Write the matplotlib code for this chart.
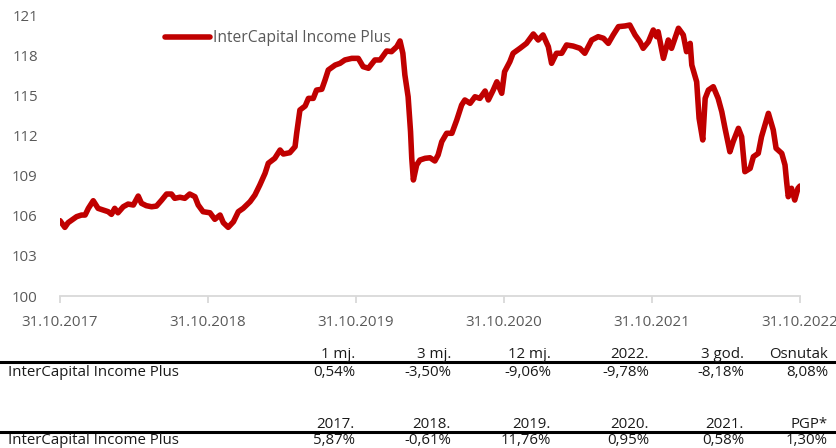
import matplotlib
matplotlib.use("Agg")
import matplotlib.pyplot as plt
from matplotlib.lines import Line2D
from matplotlib import font_manager
from matplotlib.font_manager import FontProperties
from matplotlib.textpath import TextPath
import pandas as pd

# ---------------- data ----------------
series_name = "InterCapital Income Plus"

dates = [
    "2017-10-31", "2017-11-12", "2017-11-20", "2017-12-11", "2017-12-23", "2018-01-01",
    "2018-01-09", "2018-01-21", "2018-02-02", "2018-02-14", "2018-02-27", "2018-03-07",
    "2018-03-15", "2018-03-23", "2018-04-05", "2018-04-17", "2018-04-30", "2018-05-12",
    "2018-05-20", "2018-06-01", "2018-06-14", "2018-06-26", "2018-07-09", "2018-07-21",
    "2018-08-02", "2018-08-10", "2018-08-23", "2018-09-04", "2018-09-16", "2018-09-29",
    "2018-10-07", "2018-10-19", "2018-11-05", "2018-11-17", "2018-11-30", "2018-12-08",
    "2018-12-20", "2019-01-02", "2019-01-14", "2019-01-26", "2019-02-12", "2019-02-24",
    "2019-03-08", "2019-03-21", "2019-03-29", "2019-04-14", "2019-04-27", "2019-05-05",
    "2019-05-21", "2019-06-03", "2019-06-07", "2019-06-15", "2019-06-28", "2019-07-06",
    "2019-07-18", "2019-07-26", "2019-08-08", "2019-08-16", "2019-08-24", "2019-09-10",
    "2019-09-22", "2019-10-04", "2019-10-21", "2019-11-06", "2019-11-18", "2019-12-01",
    "2019-12-17", "2019-12-30", "2020-01-15", "2020-01-27", "2020-02-09", "2020-02-17",
    "2020-02-24", "2020-02-29", "2020-03-08", "2020-03-14", "2020-03-17", "2020-03-21",
    "2020-03-29", "2020-04-06", "2020-04-19", "2020-05-01", "2020-05-13", "2020-05-21",
    "2020-05-30", "2020-06-11", "2020-06-24", "2020-07-06", "2020-07-18", "2020-07-26",
    "2020-08-08", "2020-08-20", "2020-09-01", "2020-09-14", "2020-09-22", "2020-10-04",
    "2020-10-13", "2020-10-25", "2020-11-01", "2020-11-14", "2020-11-22", "2020-12-09",
    "2020-12-25", "2021-01-11", "2021-01-23", "2021-02-04", "2021-02-17", "2021-02-25",
    "2021-03-09", "2021-03-22", "2021-04-03", "2021-04-19", "2021-05-06", "2021-05-18",
    "2021-06-04", "2021-06-20", "2021-07-03", "2021-07-15", "2021-07-27", "2021-08-09",
    "2021-08-25", "2021-09-06", "2021-09-19", "2021-10-01", "2021-10-09", "2021-10-22",
    "2021-11-03", "2021-11-11", "2021-11-15", "2021-11-28", "2021-12-10", "2021-12-18",
    "2022-01-04", "2022-01-16", "2022-01-24", "2022-02-02", "2022-02-06", "2022-02-18",
    "2022-02-24", "2022-03-05", "2022-03-11", "2022-03-19", "2022-03-31", "2022-04-12",
    "2022-04-21", "2022-04-29", "2022-05-11", "2022-05-19", "2022-06-01", "2022-06-09",
    "2022-06-17", "2022-06-30", "2022-07-08", "2022-07-20", "2022-07-28", "2022-08-14",
    "2022-08-26", "2022-09-02", "2022-09-16", "2022-09-24", "2022-09-28", "2022-10-02",
    "2022-10-10", "2022-10-18", "2022-10-26", "2022-10-31",
]

values = [
    105.63, 105.13, 105.48, 105.93, 106.05, 106.05,
    106.55, 107.12, 106.55, 106.43, 106.30, 106.10,
    106.55, 106.22, 106.67, 106.87, 106.80, 107.47,
    106.93, 106.75, 106.67, 106.72, 107.17, 107.62,
    107.62, 107.30, 107.38, 107.30, 107.62, 107.42,
    106.80, 106.30, 106.22, 105.73, 106.05, 105.48,
    105.13, 105.55, 106.30, 106.55, 107.05, 107.55,
    108.29, 109.17, 109.92, 110.29, 110.91, 110.61,
    110.71, 111.16, 112.16, 113.90, 114.20, 114.77,
    114.77, 115.39, 115.45, 116.14, 116.89, 117.26,
    117.39, 117.64, 117.76, 117.76, 117.14, 117.02,
    117.64, 117.64, 118.31, 118.26, 118.63, 119.06,
    118.14, 116.52, 114.89, 112.28, 110.29, 108.67,
    109.79, 110.16, 110.29, 110.33, 110.09, 110.54,
    111.53, 112.16, 112.16, 113.15, 114.27, 114.65,
    114.40, 114.89, 114.77, 115.32, 114.65, 115.39,
    116.01, 115.15, 116.76, 117.51, 118.14, 118.51,
    118.88, 119.58, 119.13, 119.51, 118.63, 117.39,
    118.14, 118.14, 118.76, 118.68, 118.51, 118.14,
    119.13, 119.38, 119.26, 118.88, 119.51, 120.13,
    120.18, 120.25, 119.51, 119.00, 118.51, 119.00,
    119.88, 119.38, 119.75, 117.76, 119.13, 118.51,
    120.01, 119.51, 118.26, 118.88, 117.26, 116.01,
    113.28, 111.66, 114.77, 115.39, 115.64, 114.77,
    113.77, 112.53, 110.78, 111.53, 112.53, 111.90,
    109.29, 109.54, 110.41, 110.66, 111.90, 113.65,
    112.41, 111.04, 110.66, 109.79, 108.54, 107.42,
    108.05, 107.17, 108.05, 108.22,
]

x_tick_dates = ["2017-10-31", "2018-10-31", "2019-10-31", "2020-10-31", "2021-10-31", "2022-10-31"]
x_tick_labels = ["31.10.2017", "31.10.2018", "31.10.2019", "31.10.2020", "31.10.2021", "31.10.2022"]
y_ticks = [100, 103, 106, 109, 112, 115, 118, 121]

table1_headers = ["1 mj.", "3 mj.", "12 mj.", "2022.", "3 god.", "Osnutak"]
table1_values = ["0,54%", "-3,50%", "-9,06%", "-9,78%", "-8,18%", "8,08%"]
table2_headers = ["2017.", "2018.", "2019.", "2020.", "2021.", "PGP*"]
table2_values = ["5,87%", "-0,61%", "11,76%", "0,95%", "0,58%", "1,30%"]

# ---------------- fonts ----------------
names = {f.name for f in font_manager.fontManager.ttflist}
main_font = "Open Sans" if "Open Sans" in names else "DejaVu Sans"
plt.rcParams["font.family"] = [main_font, "DejaVu Sans"]


def size_for_width(text, family, target_w):
    fp = FontProperties(family=[family, "DejaVu Sans"], size=10.0)
    w = TextPath((0, 0), text, prop=fp).get_extents().width * 100 / 72.0
    return 10.0 * target_w / w


W, H = 837, 448
fig = plt.figure(figsize=(W / 100, H / 100), dpi=100)


def fx(px):
    return px / W


def fy(py):
    return 1 - py / H


ax_left, ax_right, ax_top, ax_bottom = 60, 800, 15, 296
ax = fig.add_axes([fx(ax_left), fy(ax_bottom), (ax_right - ax_left) / W, (ax_bottom - ax_top) / H])

d = pd.to_datetime(dates)
ax.plot(d, values, color="#C00000", linewidth=4.0, solid_joinstyle="round",
        solid_capstyle="round", label=series_name)

ax.set_ylim(100, 121)
ax.set_xlim(pd.Timestamp(x_tick_dates[0]), pd.Timestamp(x_tick_dates[-1]))
ax.set_yticks(y_ticks)
ax.set_xticks(pd.to_datetime(x_tick_dates))
ax.set_xticklabels(x_tick_labels)

tick_fs = size_for_width("31.10.2017", main_font, 75)
for s in ["top", "right", "left"]:
    ax.spines[s].set_visible(False)
ax.spines["bottom"].set_color("#D9D9D9")
ax.spines["bottom"].set_linewidth(1.3)
ax.tick_params(axis="x", length=5, width=1.3, color="#D9D9D9", labelcolor="#595959",
               labelsize=tick_fs, pad=9)
ax.tick_params(axis="y", length=0, labelcolor="#595959", labelsize=tick_fs, pad=16)

leg_fs = size_for_width(series_name, main_font, 175)
leg_fs_px = leg_fs * 100 / 72.0
leg = ax.legend(loc="center left", bbox_to_anchor=(fx(165), fy(38)),
                bbox_transform=fig.transFigure, frameon=False, fontsize=leg_fs,
                handlelength=45 / leg_fs_px, handletextpad=3 / leg_fs_px,
                borderpad=0, borderaxespad=0)
for t in leg.get_texts():
    t.set_color("#595959")

# ---------------- tables ----------------
col_right = [355, 451, 551, 649, 744, 828]
txt_color = "#1a1a1a"
table_fs = 10.8
tprops = dict(fontsize=table_fs, color=txt_color, family=[main_font, "DejaVu Sans"])


def draw_table(headers, vals, base_head, y_line, base_val):
    for xr, h in zip(col_right, headers):
        fig.text(fx(xr), fy(base_head), h, ha="right", va="baseline", **tprops)
    fig.add_artist(Line2D([0, 1], [fy(y_line), fy(y_line)], transform=fig.transFigure,
                          color="black", linewidth=2.2))
    fig.text(fx(8), fy(base_val), series_name, ha="left", va="baseline", **tprops)
    for xr, v in zip(col_right, vals):
        fig.text(fx(xr), fy(base_val), v, ha="right", va="baseline", **tprops)


draw_table(table1_headers, table1_values, 357.5, 362, 376)
draw_table(table2_headers, table2_values, 427.5, 432, 444)

fig.savefig("out.png", dpi=100)
